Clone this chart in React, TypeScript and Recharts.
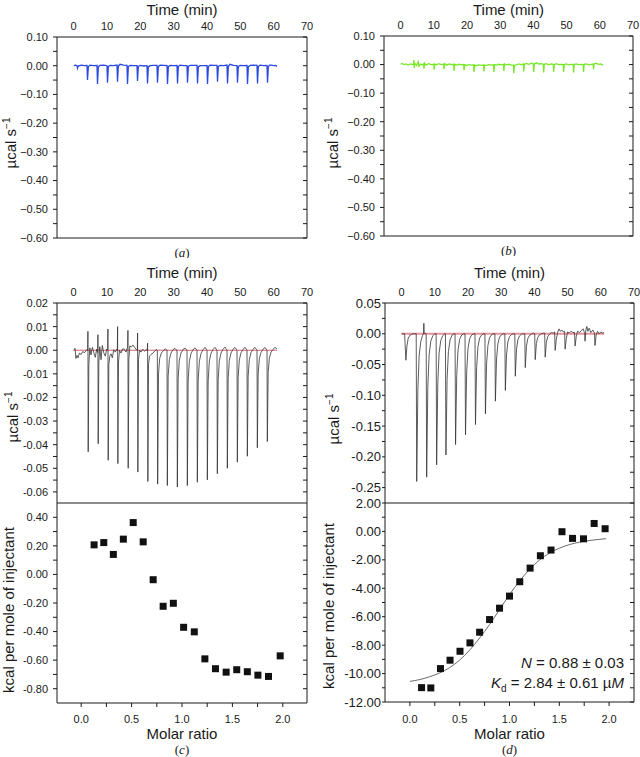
import React from 'react';
import { ComposedChart, Line, Scatter, XAxis, YAxis, Label } from 'recharts';

const FONT = '"Liberation Sans", Arial, Helvetica, sans-serif';
const SERIF = '"Liberation Serif", "Times New Roman", serif';
const INK = '#1a1a1a';

type P = [number, number];

// ---------- tick values ----------
const timeLabelTicks = [0, 10, 20, 30, 40, 50, 60, 70];
const timeMinorTicks = [0, 5, 10, 15, 20, 25, 30, 35, 40, 45, 50, 55, 60, 65, 70];
const abBottomTicks = [0, 1, 2, 3, 4, 5, 6, 7, 8, 9, 10, 11, 12];
const abMajor = [0.1, 0, -0.1, -0.2, -0.3, -0.4, -0.5, -0.6];
const abMinor = [0.05, -0.05, -0.15, -0.25, -0.35, -0.45, -0.55];
const cTopMajor = [0.02, 0.01, 0, -0.01, -0.02, -0.03, -0.04, -0.05, -0.06];
const cTopMinor = [0.015, 0.005, -0.005, -0.015, -0.025, -0.035, -0.045, -0.055];
const dTopMajor = [0.05, 0, -0.05, -0.1, -0.15, -0.2, -0.25];
const dTopMinor = [0.025, -0.025, -0.075, -0.125, -0.175, -0.225];
const cBotMajor = [0.4, 0.2, 0, -0.2, -0.4, -0.6, -0.8];
const cBotMinor = [0.3, 0.1, -0.1, -0.3, -0.5, -0.7];
const dBotMajor = [2, 0, -2, -4, -6, -8, -10, -12];
const dBotMinor = [1, -1, -3, -5, -7, -9, -11];
const molarMajor = [0, 0.5, 1, 1.5, 2];
const molarMinor = [0.25, 0.75, 1.25, 1.75];

// ---------- raw thermograms (time min, µcal/s) ----------
const traceA: P[] = [
  [0, 0.0], [0.6, 0.002], [1.0, 0.0], [1.15, -0.009], [1.4, -0.001], [2.3, 0.002], [3.2, 0.0],
  [4.0, 0.001], [4.15, -0.05], [4.4, -0.004], [4.9, 0.002], [6.0, 0.0],
  [7.0, 0.001], [7.15, -0.064], [7.4, -0.004], [7.9, 0.001], [9.0, 0.002],
  [10.0, 0.0], [10.15, -0.059], [10.4, -0.003], [10.9, 0.001], [12.0, 0.0],
  [13.0, 0.002], [13.15, -0.056], [13.4, -0.002], [13.9, 0.005], [15.0, 0.002],
  [16.0, 0.001], [16.15, -0.064], [16.4, -0.003], [16.9, 0.001], [18.0, 0.0],
  [19.0, 0.0], [19.15, -0.053], [19.4, -0.003], [19.9, 0.001], [21.0, -0.001],
  [22.0, 0.0], [22.15, -0.062], [22.4, -0.004], [22.9, 0.0], [24.0, 0.001],
  [25.0, 0.001], [25.15, -0.059], [25.4, -0.003], [25.9, 0.002], [27.0, 0.001],
  [28.0, 0.0], [28.15, -0.064], [28.4, -0.004], [28.9, 0.001], [30.0, 0.0],
  [31.0, 0.001], [31.15, -0.062], [31.4, -0.003], [31.9, 0.002], [33.0, 0.0],
  [34.0, 0.0], [34.15, -0.059], [34.4, -0.003], [34.9, 0.001], [36.0, 0.001],
  [37.0, 0.001], [37.15, -0.062], [37.4, -0.004], [37.9, 0.0], [39.0, 0.0],
  [40.0, 0.0], [40.15, -0.064], [40.4, -0.004], [40.9, 0.002], [42.0, 0.001],
  [43.0, 0.001], [43.15, -0.056], [43.4, -0.003], [43.9, 0.001], [45.0, 0.0],
  [46.0, 0.002], [46.15, -0.062], [46.4, -0.003], [46.9, 0.005], [48.0, 0.001],
  [49.0, 0.0], [49.15, -0.059], [49.4, -0.003], [49.9, 0.001], [51.0, 0.0],
  [52.0, 0.001], [52.15, -0.064], [52.4, -0.004], [52.9, 0.001], [54.0, 0.002],
  [55.0, 0.001], [55.15, -0.062], [55.4, -0.003], [55.9, 0.002], [57.0, 0.0],
  [58.0, 0.001], [58.15, -0.059], [58.4, -0.003], [58.9, 0.003], [60.0, 0.0], [60.6, 0.001], [61.0, -0.003],
];

const traceB: P[] = [
  [0, 0.001], [0.5, 0.004], [1.0, 0.0], [1.6, 0.002], [2.3, -0.002], [3.0, 0.002], [3.6, 0.0],
  [3.9, 0.001], [4.0, 0.016], [4.1, -0.012], [4.3, 0.004], [4.8, -0.003], [5.3, 0.01], [5.5, -0.006], [6.1, 0.002], [6.6, -0.001],
  [6.9, 0.002], [7.05, -0.014], [7.2, 0.005], [7.7, -0.002], [8.4, 0.003], [9.2, 0.0],
  [10.0, 0.001], [10.1, -0.018], [10.3, 0.002], [10.8, -0.001], [11.5, 0.003], [12.3, 0.0],
  [13.0, 0.002], [13.1, -0.016], [13.3, 0.003], [13.9, -0.002], [14.6, 0.002], [15.3, 0.0],
  [16.0, 0.001], [16.1, -0.022], [16.3, 0.001], [16.9, -0.002], [17.6, 0.001], [18.4, -0.001],
  [19.0, 0.0], [19.1, -0.02], [19.3, 0.0], [19.9, -0.003], [20.6, 0.0], [21.4, -0.002],
  [22.0, -0.001], [22.1, -0.026], [22.3, -0.002], [22.9, -0.004], [23.6, -0.001], [24.4, -0.003],
  [25.0, -0.001], [25.1, -0.024], [25.3, -0.002], [25.9, -0.003], [26.6, 0.0], [27.4, -0.002],
  [28.0, -0.001], [28.1, -0.026], [28.3, 0.0], [28.9, -0.002], [29.6, 0.001], [30.4, -0.001],
  [31.0, 0.001], [31.1, -0.022], [31.3, 0.002], [31.9, -0.001], [32.6, 0.001], [33.4, -0.002],
  [34.0, -0.002], [34.1, -0.03], [34.3, -0.003], [34.9, -0.001], [35.6, 0.002], [36.4, -0.001],
  [37.0, 0.002], [37.1, -0.024], [37.3, 0.001], [37.9, 0.004], [38.6, 0.001], [39.4, 0.005],
  [40.0, 0.002], [40.1, -0.026], [40.3, 0.002], [40.9, 0.006], [41.6, 0.002], [42.4, 0.003],
  [43.0, 0.001], [43.1, -0.028], [43.3, 0.001], [43.9, 0.003], [44.6, -0.001], [45.4, 0.002],
  [46.0, 0.001], [46.1, -0.026], [46.3, 0.0], [46.9, 0.003], [47.6, 0.0], [48.4, 0.001],
  [49.0, 0.0], [49.1, -0.026], [49.3, 0.0], [49.9, 0.002], [50.6, -0.001], [51.4, 0.001],
  [52.0, 0.001], [52.1, -0.028], [52.3, 0.0], [52.9, 0.002], [53.6, 0.0], [54.4, 0.001],
  [55.0, 0.0], [55.1, -0.026], [55.3, 0.001], [55.9, 0.002], [56.6, -0.001], [57.4, 0.001],
  [58.0, 0.002], [58.1, -0.016], [58.3, 0.003], [58.9, 0.005], [59.6, 0.001], [60.3, 0.002], [61.0, -0.002],
];

const traceC: P[] = [
  [0, 0.0], [0.4, 0.0008], [0.7, -0.0035], [1.0, -0.0022], [1.3, -0.0032], [1.7, -0.0012], [2.2, -0.0018], [2.7, -0.0006], [3.3, -0.001], [3.9, 0.0002],
  [4.2, 0.0], [4.28, 0.008], [4.36, -0.043], [4.55, -0.006], [4.85, 0.001], [5.2, -0.002], [5.6, 0.0012], [6.0, -0.0008], [6.5, -0.003], [6.9, 0.0005],
  [7.2, -0.001], [7.28, 0.0066], [7.36, -0.0396], [7.55, -0.005], [7.85, 0.0015], [8.2, -0.004], [8.6, 0.002], [9.0, -0.001], [9.5, -0.0025], [9.9, 0.0005],
  [10.2, 0.0], [10.28, 0.009], [10.36, -0.0466], [10.55, -0.006], [10.85, -0.0025], [11.2, -0.0015], [11.6, -0.0032], [12.0, 0.0002], [12.5, -0.0008], [12.9, 0.0004],
  [13.1, 0.0], [13.18, 0.01], [13.26, -0.048], [13.45, -0.005], [13.75, 0.0], [14.2, -0.0012], [14.7, 0.0006], [15.2, 0.0004], [15.7, -0.0008], [16.0, 0.0008],
  [16.2, 0.001], [16.28, 0.0084], [16.36, -0.05], [16.55, -0.004], [16.85, 0.0018], [17.3, 0.0014], [17.8, 0.0022], [18.3, 0.0012], [18.8, 0.0002],
  [19.1, 0.0], [19.18, 0.0073], [19.26, -0.0516], [19.45, -0.004], [19.75, 0.0], [20.2, -0.0008], [20.7, 0.0004], [21.3, -0.0004], [21.8, 0.0002],
  [22.1, 0.0], [22.18, 0.003], [22.26, -0.0556], [22.45, -0.006], [22.75, -0.0025], [23.2, -0.0018], [23.8, -0.0012], [24.4, -0.0002], [24.9, 0.0003],
  [25.1, 0.0], [25.2, -0.0567], [25.45, -0.01], [25.8, -0.0035], [26.3, -0.0012], [26.9, -0.0002], [27.5, 0.0006], [27.9, 0.0],
  [28.0, 0.0], [28.1, -0.0573], [28.35, -0.011], [28.7, -0.004], [29.2, -0.0012], [29.8, 0.0002], [30.4, 0.0008], [30.9, 0.0],
  [31.0, 0.0], [31.1, -0.0579], [31.35, -0.012], [31.7, -0.0042], [32.2, -0.0012], [32.8, 0.0003], [33.4, 0.0009], [33.9, 0.0001],
  [34.0, 0.0], [34.1, -0.0573], [34.35, -0.013], [34.7, -0.0048], [35.2, -0.0014], [35.8, 0.0002], [36.4, 0.001], [36.9, 0.0002],
  [37.0, 0.0], [37.1, -0.0559], [37.35, -0.013], [37.7, -0.0048], [38.2, -0.0014], [38.8, 0.0002], [39.4, 0.0012], [39.9, 0.0002],
  [40.0, 0.0], [40.1, -0.0549], [40.35, -0.013], [40.7, -0.0046], [41.2, -0.0013], [41.8, 0.0003], [42.4, 0.0012], [42.9, 0.0002],
  [43.0, 0.0], [43.1, -0.0523], [43.35, -0.0125], [43.7, -0.0045], [44.2, -0.0012], [44.8, 0.0004], [45.4, 0.0013], [45.9, 0.0002],
  [46.0, 0.0], [46.1, -0.05], [46.35, -0.012], [46.7, -0.0043], [47.2, -0.0012], [47.8, 0.0004], [48.4, 0.0012], [48.9, 0.0002],
  [49.0, 0.0], [49.1, -0.0474], [49.35, -0.0115], [49.7, -0.0041], [50.2, -0.0011], [50.8, 0.0004], [51.4, 0.0012], [51.9, 0.0002],
  [52.0, 0.0], [52.1, -0.0449], [52.35, -0.011], [52.7, -0.0039], [53.2, -0.001], [53.8, 0.0004], [54.4, 0.0012], [54.9, 0.0002],
  [55.0, 0.0], [55.1, -0.0413], [55.35, -0.01], [55.7, -0.0036], [56.2, -0.001], [56.8, 0.0004], [57.4, 0.0012], [57.9, 0.0002],
  [58.0, 0.0], [58.1, -0.0387], [58.35, -0.0095], [58.7, -0.0034], [59.2, -0.0009], [59.8, 0.0004], [60.4, 0.0012], [61.0, 0.0006],
];

const traceD: P[] = [
  [0, 0.0], [0.9, 0.0], [1.3, -0.043], [1.6, -0.02], [2.0, -0.007], [2.6, -0.002], [3.3, 0.0], [4.0, 0.0],
  [4.4, 0.0], [4.55, -0.24], [4.9, -0.09], [5.3, -0.035], [5.8, -0.012], [6.3, -0.003], [6.6, 0.0],
  [6.7, 0.017], [6.8, 0.001], [7.4, 0.0], [7.55, -0.233], [7.9, -0.087], [8.3, -0.034], [8.8, -0.012], [9.4, -0.003], [10.0, 0.0],
  [10.4, 0.0], [10.55, -0.213], [10.9, -0.08], [11.3, -0.031], [11.8, -0.011], [12.4, -0.003], [13.0, 0.0],
  [13.2, 0.0], [13.35, -0.197], [13.7, -0.074], [14.1, -0.029], [14.6, -0.01], [15.2, -0.002], [15.8, 0.0],
  [16.1, 0.0], [16.25, -0.18], [16.6, -0.068], [17.0, -0.026], [17.5, -0.009], [18.1, -0.002], [18.7, 0.0],
  [19.1, 0.0], [19.25, -0.164], [19.6, -0.062], [20.0, -0.024], [20.5, -0.008], [21.1, -0.002], [21.7, 0.0],
  [22.1, 0.0], [22.25, -0.1475], [22.6, -0.055], [23.0, -0.021], [23.5, -0.007], [24.1, -0.002], [24.7, 0.0],
  [25.1, 0.0], [25.25, -0.13], [25.6, -0.049], [26.0, -0.019], [26.5, -0.0065], [27.1, -0.0015], [27.7, 0.0],
  [28.1, 0.0], [28.25, -0.1095], [28.6, -0.041], [29.0, -0.016], [29.5, -0.0055], [30.1, -0.0013], [30.7, 0.0],
  [31.1, 0.0], [31.25, -0.092], [31.6, -0.0345], [32.0, -0.0133], [32.5, -0.0046], [33.1, -0.0011], [33.7, 0.0],
  [34.1, 0.0], [34.25, -0.069], [34.6, -0.026], [35.0, -0.01], [35.5, -0.0035], [36.1, -0.0008], [36.7, 0.0],
  [37.1, 0.0], [37.25, -0.055], [37.6, -0.0206], [38.0, -0.008], [38.5, -0.0028], [39.1, -0.0007], [39.7, 0.001],
  [40.1, 0.0], [40.25, -0.042], [40.6, -0.0158], [41.0, -0.006], [41.5, -0.002], [42.1, 0.0], [42.7, 0.001],
  [43.1, 0.001], [43.25, -0.038], [43.6, -0.014], [44.0, -0.005], [44.5, -0.001], [45.1, 0.002], [45.7, 0.001],
  [46.1, 0.003], [46.25, -0.027], [46.6, -0.009], [47.0, 0.002], [47.4, 0.008], [47.8, 0.004], [48.3, 0.006], [48.7, 0.003],
  [49.1, 0.004], [49.25, -0.025], [49.6, -0.008], [50.0, 0.003], [50.5, 0.001], [51.0, 0.004], [51.6, 0.002],
  [52.1, 0.002], [52.25, -0.02], [52.6, -0.005], [53.0, 0.004], [53.6, 0.002], [54.1, 0.005], [54.7, 0.008], [55.0, 0.003],
  [55.15, 0.002], [55.25, -0.012], [55.5, 0.006], [55.8, 0.012], [56.1, 0.004], [56.5, 0.009], [57.0, 0.002], [57.6, 0.006],
  [58.1, 0.001], [58.25, -0.019], [58.6, -0.002], [59.0, 0.004], [59.5, 0.0], [60.0, 0.003], [60.5, 0.001], [61.0, 0.002],
];

const baselineTimes = [0, 61];
const baselineValues = [0, 0];

// ---------- integrated heats ----------
const molarC = [0.128, 0.224, 0.319, 0.418, 0.516, 0.615, 0.714, 0.813, 0.914, 1.016, 1.122, 1.227, 1.332, 1.438, 1.543, 1.648, 1.753, 1.858, 1.974];
const heatC = [0.207, 0.223, 0.14, 0.247, 0.363, 0.228, -0.037, -0.223, -0.202, -0.37, -0.402, -0.591, -0.66, -0.684, -0.667, -0.681, -0.705, -0.714, -0.57];
const molarD = [0.117, 0.21, 0.307, 0.403, 0.503, 0.603, 0.7, 0.8, 0.9, 1.0, 1.103, 1.207, 1.31, 1.417, 1.527, 1.633, 1.743, 1.85, 1.96];
const heatD = [-10.99, -11.01, -9.65, -9.06, -8.43, -7.84, -7.09, -6.2, -5.4, -4.55, -3.54, -2.58, -1.71, -1.31, -0.02, -0.49, -0.52, 0.56, 0.19];
const fitX = [0, 0.1, 0.2, 0.3, 0.4, 0.5, 0.6, 0.7, 0.8, 0.9, 1.0, 1.1, 1.2, 1.3, 1.4, 1.5, 1.6, 1.7, 1.8, 1.9, 1.97];
const fitY = [-10.55, -10.42, -10.22, -9.95, -9.58, -9.05, -8.35, -7.5, -6.55, -5.5, -4.45, -3.5, -2.68, -2.02, -1.53, -1.18, -0.93, -0.76, -0.64, -0.56, -0.51];

// ---------- helpers ----------
const toTV = (a: P[]) => a.map(([t, v]) => ({ t, v }));
const zipXY = (xs: number[], ys: number[]) => xs.map((x, i) => ({ x, y: ys[i] }));
const baseline = baselineTimes.map((t, i) => ({ t, v: baselineValues[i] }));

const isIn = (arr: number[], v: number) => arr.some((m) => Math.abs(m - v) < 1e-9);
const yFmt = (major: number[], minus: string) => (v: number) =>
  isIn(major, v) ? (v < -1e-9 ? minus : '') + Math.abs(v).toFixed(2) : '';
const blank = () => '';
const molarFmt = (v: number) => (isIn(molarMajor, v) ? v.toFixed(1) : '');

const topTitle = (text: string, dy: number) => (props: any) => {
  const vb = props.viewBox || { x: 0, y: 0, width: 0, height: 0 };
  return (
    <text x={vb.x + vb.width / 2} y={vb.y + dy} textAnchor="middle" fontFamily={FONT} fontSize={15} fill={INK}>
      {text}
    </text>
  );
};

const captionNode = (letter: string, x: number, y: number) => (
  <text x={x} y={y} textAnchor="middle" fontFamily={SERIF} fontSize={13} fill={INK}>
    (<tspan fontStyle="italic">{letter}</tspan>)
  </text>
);

const caption = (letter: string, dy: number) => (props: any) => {
  const vb = props.viewBox;
  return captionNode(letter, vb.x + vb.width / 2, vb.y + dy);
};

const yTitle = (kind: 'ucal' | 'kcal', dx: number, dy: number) => (props: any) => {
  const vb = props.viewBox;
  const cx = vb.x + vb.width + dx;
  const cy = vb.y + vb.height / 2 + dy;
  return (
    <text x={cx} y={cy + 5} textAnchor="middle" fontFamily={FONT} fontSize={15} fill={INK} transform={`rotate(-90 ${cx} ${cy})`}>
      {kind === 'ucal' ? (
        <>
          µcal s<tspan dy={-6} fontSize={10}>−1</tspan>
        </>
      ) : (
        'kcal per mole of injectant'
      )}
    </text>
  );
};

const molarBottom = (letter: string, dTitle: number, dCap: number, stats: boolean) => (props: any) => {
  const vb = props.viewBox;
  const cx = vb.x + vb.width / 2;
  const right = vb.x + vb.width - 10;
  return (
    <g>
      <text x={cx} y={vb.y + dTitle} textAnchor="middle" fontFamily={FONT} fontSize={15} fill={INK}>
        Molar ratio
      </text>
      {captionNode(letter, cx, vb.y + dCap)}
      {stats && (
        <>
          <text x={right} y={vb.y - 34} textAnchor="end" fontFamily={FONT} fontSize={15} fill={INK}>
            <tspan fontStyle="italic">N</tspan> = 0.88 ± 0.03
          </text>
          <text x={right} y={vb.y - 14} textAnchor="end" fontFamily={FONT} fontSize={15} fill={INK}>
            <tspan fontStyle="italic">K</tspan>
            <tspan fontSize={10} dy={4}>d</tspan>
            <tspan dy={-4}> = 2.84 ± 0.61 µ</tspan>
            <tspan fontStyle="italic">M</tspan>
          </text>
        </>
      )}
    </g>
  );
};

const square = (props: any) => (
  <rect x={props.cx - 3.5} y={props.cy - 3.5} width={7} height={7} fill="#111" />
);

const stroke = { stroke: INK, strokeWidth: 1 };

type TraceCfg = {
  left: number;
  mLeft: number;
  plotW: number;
  mRight: number;
  top: number;
  height: number;
  titleDy: number;
  yDomain: [number, number];
  major: number[];
  minor: number[];
  minus: string;
  tickFont: number;
  ySize: number;
  yMargin: number;
  ylDx: number;
  ylDy: number;
  traces: { data: { t: number; v: number }[]; color: string; width: number }[];
  caption?: string;
  molarDomain?: [number, number];
};

function TracePanel({ cfg }: { cfg: TraceCfg }) {
  const tickStyle = { fontSize: cfg.tickFont, fill: INK, fontFamily: FONT };
  const allY = [...cfg.major, ...cfg.minor];
  const W = cfg.mLeft + 57 + cfg.plotW + cfg.mRight;
  return (
    <div style={{ position: 'absolute', left: cfg.left, top: cfg.top }}>
      <ComposedChart width={W} height={cfg.height} margin={{ top: 0, right: cfg.mRight, bottom: 0, left: cfg.mLeft }}>
        <XAxis
          xAxisId="t" type="number" dataKey="t" orientation="top" domain={[-5, 70]} allowDataOverflow
          ticks={timeLabelTicks} interval={0} height={45} tickLine={false} tickSize={0} tickMargin={7}
          axisLine={stroke} tick={{ fontSize: 11, fill: INK, fontFamily: FONT }}
        >
          <Label content={topTitle('Time (min)', cfg.titleDy)} />
        </XAxis>
        <XAxis
          xAxisId="tm" type="number" orientation="top" mirror domain={[-5, 70]} allowDataOverflow
          ticks={timeMinorTicks} interval={0} tickSize={4} tickFormatter={blank} axisLine={false} tickLine={stroke}
        />
        {cfg.caption ? (
          <XAxis
            xAxisId="b" type="number" orientation="bottom" domain={[0, 12]} allowDataOverflow
            ticks={abBottomTicks} interval={0} height={20} tickSize={4} tickFormatter={blank}
            axisLine={stroke} tickLine={stroke}
          >
            <Label content={caption(cfg.caption, 18.5)} />
          </XAxis>
        ) : (
          <XAxis
            xAxisId="bm" type="number" orientation="bottom" mirror domain={cfg.molarDomain} allowDataOverflow
            ticks={[...molarMajor, ...molarMinor]} interval={0} tickSize={4} tickFormatter={blank}
            axisLine={false} tickLine={stroke}
          />
        )}
        <YAxis
          yAxisId="l" type="number" dataKey="v" domain={cfg.yDomain} allowDataOverflow ticks={allY} interval={0}
          width={57} tickSize={cfg.ySize} tickMargin={cfg.yMargin} tickFormatter={yFmt(cfg.major, cfg.minus)}
          tick={tickStyle} axisLine={stroke} tickLine={stroke}
        >
          <Label content={yTitle('ucal', cfg.ylDx, cfg.ylDy)} />
        </YAxis>
        <YAxis
          yAxisId="r" type="number" orientation="right" mirror domain={cfg.yDomain} allowDataOverflow
          ticks={allY} interval={0} tickSize={4} tickFormatter={blank} axisLine={stroke} tickLine={stroke}
        />
        {cfg.traces.map((tr, i) => (
          <Line
            key={i} xAxisId="t" yAxisId="l" data={tr.data} dataKey="v" type="linear"
            stroke={tr.color} strokeWidth={tr.width} dot={false} activeDot={false} isAnimationActive={false}
          />
        ))}
      </ComposedChart>
    </div>
  );
}

type HeatCfg = {
  left: number;
  mLeft: number;
  plotW: number;
  mRight: number;
  top: number;
  mTop: number;
  plotH: number;
  bottomH: number;
  yDomain: [number, number];
  major: number[];
  minor: number[];
  tickFontY: number;
  ySize: number;
  yMargin: number;
  xMargin: number;
  ylDx: number;
  ylDy: number;
  molarDomain: [number, number];
  points: { x: number; y: number }[];
  fit?: { x: number; y: number }[];
  letter: string;
  dTitle: number;
  dCap: number;
  stats: boolean;
};

function HeatPanel({ cfg }: { cfg: HeatCfg }) {
  const allY = [...cfg.major, ...cfg.minor];
  const allX = [...molarMajor, ...molarMinor];
  const W = cfg.mLeft + 57 + cfg.plotW + cfg.mRight;
  return (
    <div style={{ position: 'absolute', left: cfg.left, top: cfg.top }}>
      <ComposedChart
        width={W} height={cfg.mTop + cfg.plotH + cfg.bottomH}
        margin={{ top: cfg.mTop, right: cfg.mRight, bottom: 0, left: cfg.mLeft }}
      >
        <XAxis
          xAxisId="m" type="number" dataKey="x" orientation="bottom" domain={cfg.molarDomain} allowDataOverflow
          ticks={allX} interval={0} height={cfg.bottomH} tickSize={4} tickMargin={cfg.xMargin} tickFormatter={molarFmt}
          tick={{ fontSize: 11, fill: INK, fontFamily: FONT }} axisLine={stroke} tickLine={stroke}
        >
          <Label content={molarBottom(cfg.letter, cfg.dTitle, cfg.dCap, cfg.stats)} />
        </XAxis>
        <XAxis
          xAxisId="mt" type="number" orientation="top" mirror domain={cfg.molarDomain} allowDataOverflow
          ticks={allX} interval={0} tickSize={4} tickFormatter={blank} axisLine={stroke} tickLine={stroke}
        />
        <YAxis
          yAxisId="l" type="number" dataKey="y" domain={cfg.yDomain} allowDataOverflow ticks={allY} interval={0}
          width={57} tickSize={cfg.ySize} tickMargin={cfg.yMargin} tickFormatter={yFmt(cfg.major, '-')}
          tick={{ fontSize: cfg.tickFontY, fill: INK, fontFamily: FONT }} axisLine={stroke} tickLine={stroke}
        >
          <Label content={yTitle('kcal', cfg.ylDx, cfg.ylDy)} />
        </YAxis>
        <YAxis
          yAxisId="r" type="number" orientation="right" mirror domain={cfg.yDomain} allowDataOverflow
          ticks={allY} interval={0} tickSize={4} tickFormatter={blank} axisLine={stroke} tickLine={stroke}
        />
        {cfg.fit && (
          <Line
            xAxisId="m" yAxisId="l" data={cfg.fit} dataKey="y" type="monotone" stroke="#6a6a6a"
            strokeWidth={1} dot={false} activeDot={false} isAnimationActive={false}
          />
        )}
        <Scatter xAxisId="m" yAxisId="l" data={cfg.points} dataKey="y" shape={square} isAnimationActive={false} />
      </ComposedChart>
    </div>
  );
}

const panelA: TraceCfg = {
  left: 0, mLeft: 0, plotW: 250, mRight: 13, top: -8, height: 266, titleDy: 22.5,
  yDomain: [-0.6, 0.1], major: abMajor, minor: abMinor, minus: '−',
  tickFont: 11, ySize: 4, yMargin: 5, ylDx: -46, ylDy: 5.5,
  traces: [{ data: toTV(traceA), color: '#2a48e2', width: 1.3 }], caption: 'a',
};
const panelB: TraceCfg = {
  left: 320, mLeft: 7, plotW: 249, mRight: 7, top: -9, height: 265, titleDy: 23.5,
  yDomain: [-0.6, 0.1], major: abMajor, minor: abMinor, minus: '−',
  tickFont: 11, ySize: 4, yMargin: 5, ylDx: -51, ylDy: 7,
  traces: [{ data: toTV(traceB), color: '#7ae82a', width: 1.3 }], caption: 'b',
};
const panelCTop: TraceCfg = {
  left: 0, mLeft: 0, plotW: 250, mRight: 13, top: 258, height: 245, titleDy: 19.5,
  yDomain: [-0.0647, 0.02], major: cTopMajor, minor: cTopMinor, minus: '-',
  tickFont: 11, ySize: 4, yMargin: 5, ylDx: -44, ylDy: 14,
  traces: [
    { data: baseline, color: '#d9606c', width: 1 },
    { data: toTV(traceC), color: '#333333', width: 0.8 },
  ],
  molarDomain: [-0.24, 2.24],
};
const panelDTop: TraceCfg = {
  left: 320, mLeft: 8, plotW: 249, mRight: 6, top: 258, height: 245, titleDy: 19.5,
  yDomain: [-0.275, 0.05], major: dTopMajor, minor: dTopMinor, minus: '-',
  tickFont: 13, ySize: 3, yMargin: 1, ylDx: -51, ylDy: 16,
  traces: [
    { data: baseline, color: '#e8939b', width: 2 },
    { data: toTV(traceD), color: '#333333', width: 0.8 },
  ],
  molarDomain: [-0.25, 2.25],
};
const panelCBot: HeatCfg = {
  left: 0, mLeft: 0, plotW: 250, mRight: 13, top: 495, mTop: 8, plotH: 200, bottomH: 54,
  yDomain: [-0.9, 0.5], major: cBotMajor, minor: cBotMinor,
  tickFontY: 11, ySize: 4, yMargin: 5, xMargin: 8, ylDx: -48, ylDy: 7, molarDomain: [-0.24, 2.24],
  points: zipXY(molarC, heatC), letter: 'c', dTitle: 36, dCap: 50.5, stats: false,
};
const panelDBot: HeatCfg = {
  left: 320, mLeft: 8, plotW: 249, mRight: 6, top: 495, mTop: 8, plotH: 199, bottomH: 55,
  yDomain: [-12, 2], major: dBotMajor, minor: dBotMinor,
  tickFontY: 13, ySize: 3, yMargin: 1, xMargin: 9, ylDx: -56, ylDy: 3.5, molarDomain: [-0.25, 2.25],
  points: zipXY(molarD, heatD), fit: zipXY(fitX, fitY), letter: 'd', dTitle: 37, dCap: 51.5, stats: true,
};

export default function App() {
  return (
    <div style={{ position: 'absolute', left: 0, top: 0, width: 640, height: 757, overflow: 'hidden', background: '#fff' }}>
      <TracePanel cfg={panelA} />
      <TracePanel cfg={panelB} />
      <TracePanel cfg={panelCTop} />
      <TracePanel cfg={panelDTop} />
      <HeatPanel cfg={panelCBot} />
      <HeatPanel cfg={panelDBot} />
    </div>
  );
}
